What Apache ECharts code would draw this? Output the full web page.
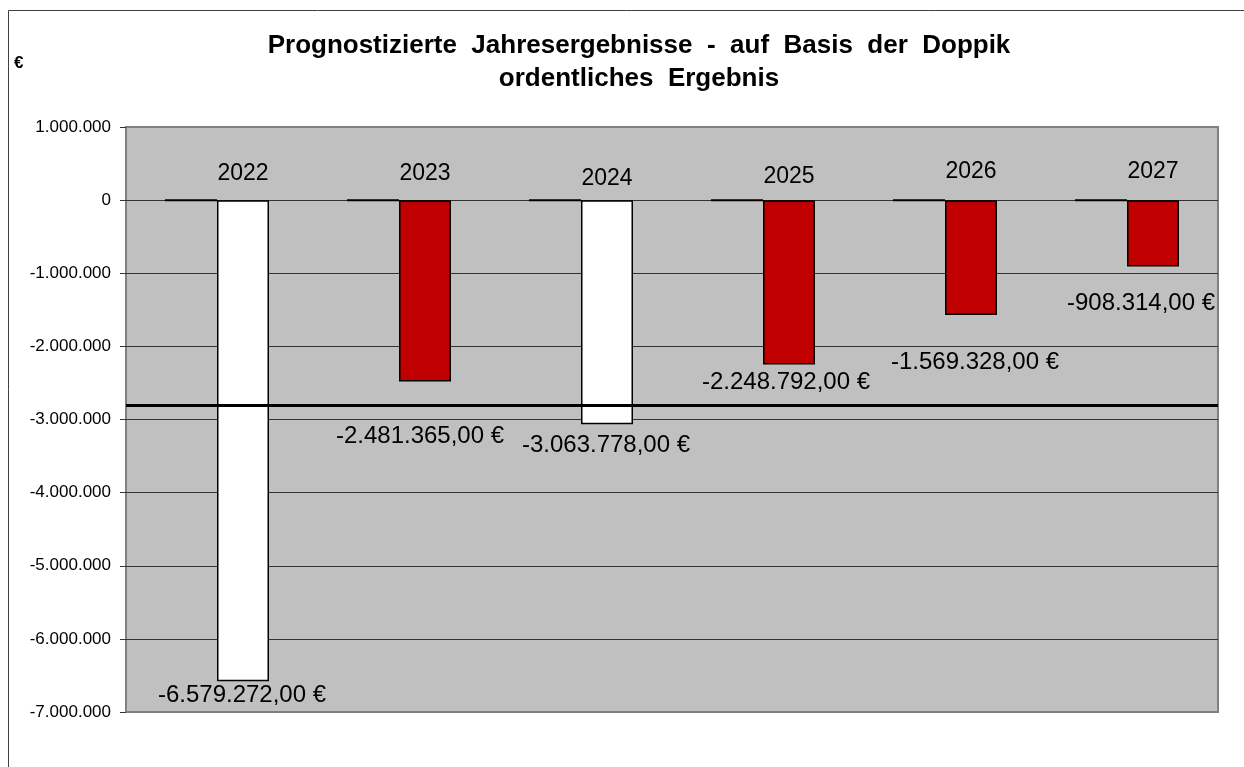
<!DOCTYPE html>
<html>
<head>
<meta charset="utf-8">
<script src="https://cdn.jsdelivr.net/npm/echarts@6/dist/echarts.min.js"></script>
<style>html,body{margin:0;padding:0;background:#fff}#c{width:1244px;height:767px}</style>
</head>
<body>
<div id="c"></div>
<script>
const categories = ['2022', '2023', '2024', '2025', '2026', '2027'];
const zeroValues = [0, 0, 0, 0, 0, 0];
const results = [-6579272.00, -2481365.00, -3063778.00, -2248792.00, -1569328.00, -908314.00];
const yMin = -7000000;
const yMax = 1000000;
const yStep = 1000000;

// styling (not data)
const barFills = ['#FFFFFF', '#C00000', '#FFFFFF', '#C00000', '#C00000', '#C00000'];
const labelShift = [[-1, 2], [-5, 43], [-1, 9], [-3, 6], [4, 35], [-12, 25]];
const yearShift = [[52, 0], [52, 0], [52, 5], [52, 3], [52, -2], [52, -2]];

const FONT = '"Liberation Sans", Arial, sans-serif';

function groupDigits(v) {
  const s = Math.round(Math.abs(v)).toString().replace(/\B(?=(\d{3})+(?!\d))/g, '.');
  return (v < 0 ? '-' : '') + s;
}
function euro(v) {
  return groupDigits(v) + ',00 €';
}

const chart = echarts.init(document.getElementById('c'), null, { renderer: 'canvas' });

const zeroData = zeroValues.map((v, i) => ({
  value: v,
  label: { offset: yearShift[i] }
}));

const valueData = results.map((v, i) => ({
  value: v,
  itemStyle: { color: barFills[i] },
  label: { offset: labelShift[i] }
}));

chart.setOption({
  animation: false,
  backgroundColor: '#ffffff',
  textStyle: { fontFamily: FONT },
  title: {
    text: 'Prognostizierte  Jahresergebnisse  -  auf  Basis  der  Doppik\nordentliches  Ergebnis',
    left: 634,
    top: 24,
    textAlign: 'center',
    textStyle: { fontFamily: FONT, fontSize: 26, fontWeight: 'bold', color: '#000', lineHeight: 33 }
  },
  graphic: [
    {
      type: 'rect', z: -10, silent: true,
      shape: { x: 8.5, y: 10.5, width: 1400, height: 900 },
      style: { fill: 'none', stroke: '#404040', lineWidth: 1 }
    },
    {
      type: 'text', left: 14, top: 55, silent: true,
      style: { text: '€', font: 'bold 17px ' + FONT, fill: '#000' }
    }
  ],
  grid: {
    left: 126, top: 127, right: 26, bottom: 55,
    show: true, backgroundColor: '#C0C0C0', borderColor: '#808080', borderWidth: 2
  },
  xAxis: {
    type: 'category',
    data: categories,
    axisLine: { show: false },
    axisTick: { show: false },
    axisLabel: { show: false },
    splitLine: { show: false }
  },
  yAxis: {
    type: 'value',
    min: yMin, max: yMax, interval: yStep,
    axisLine: { show: false },
    axisTick: { show: true, length: 6, lineStyle: { color: '#333' } },
    axisLabel: {
      color: '#000', fontSize: 17, fontFamily: FONT, margin: 15,
      formatter: v => groupDigits(v)
    },
    splitLine: { show: true, showMinLine: false, showMaxLine: false, lineStyle: { color: '#333', width: 1 } }
  },
  series: [
    {
      name: 'Basis',
      type: 'bar',
      data: zeroData,
      barWidth: 52,
      barGap: '0%',
      itemStyle: { color: '#000', borderColor: '#000', borderWidth: 2 },
      label: {
        show: true, position: 'top', distance: 14,
        color: '#000', fontSize: 23, fontFamily: FONT,
        formatter: p => p.name
      },
      z: 3
    },
    {
      name: 'Ergebnis',
      type: 'bar',
      data: valueData,
      barWidth: 52,
      barGap: '0%',
      itemStyle: { borderColor: '#000', borderWidth: 1.5 },
      label: {
        show: true, position: 'bottom', distance: 0,
        color: '#000', fontSize: 24, fontFamily: FONT,
        formatter: p => euro(p.value)
      },
      markLine: {
        silent: true,
        symbol: 'none',
        label: { show: false },
        lineStyle: { color: '#000', width: 3, type: 'solid' },
        data: [{ type: 'average' }]
      },
      z: 2
    }
  ]
});
</script>
</body>
</html>
